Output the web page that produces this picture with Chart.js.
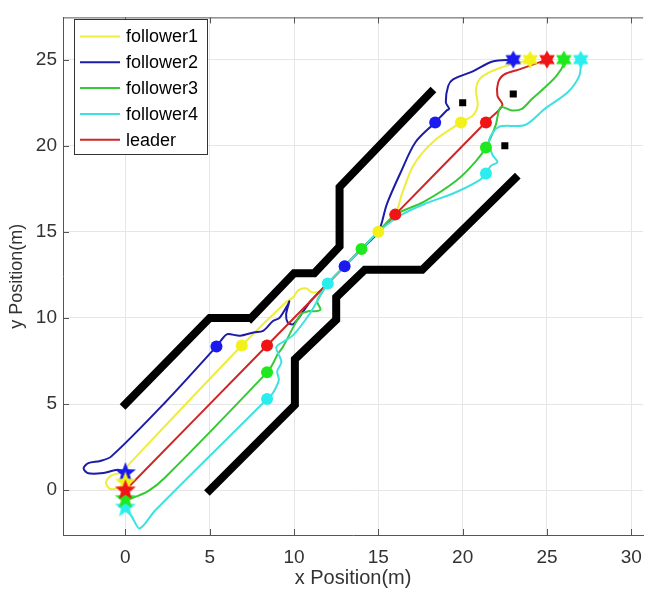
<!DOCTYPE html>
<html>
<head>
<meta charset="utf-8">
<script src="https://cdn.jsdelivr.net/npm/chart.js@4.4.1/dist/chart.umd.min.js"></script>
<style>body{margin:0;background:#fff}</style>
</head>
<body>
<canvas id="pathChart" width="653" height="591"></canvas>
<script>
// tick labels
const xTicks = [0, 5, 10, 15, 20, 25, 30];
const yTicks = [0, 5, 10, 15, 20, 25];
const seriesNames = ["follower1", "follower2", "follower3", "follower4", "leader"];

// trajectories
const f1X = [0, -0.45, -0.95, -1.15, -0.85, -0.2, 0.3, 6.9, 9.5, 9.95, 10.25, 10.7, 11.05, 11.5, 12, 13, 14, 15, 16, 16.4, 17.1, 18.27, 19.9, 20.6, 20.89, 20.79, 21.08, 22.16, 24];
const f1Y = [0.45, 0.12, 0.1, 0.45, 0.85, 1.05, 1.6, 8.4, 10.9, 11.2, 11.6, 11.72, 11.5, 11.55, 12, 13, 14, 15, 16, 17.2, 18.9, 20.25, 21.35, 21.76, 22.33, 23.28, 23.95, 24.5, 25];
const f2X = [0, -0.45, -1.3, -2.2, -2.48, -2.2, -1.5, -0.85, 2.34, 5.4, 5.74, 6.03, 6.8, 7.6, 8.17, 8.75, 9.14, 9.63, 9.72, 9.53, 9.63, 9.92, 10.2, 11, 12, 13, 14, 15, 15.5, 16.3, 17.2, 18.37, 19.05, 19.2, 19.0, 19.14, 19.43, 20.6, 21.77, 23];
const f2Y = [1, 1.19, 1.0, 0.98, 1.27, 1.57, 1.7, 1.95, 5.08, 8.35, 8.78, 9.06, 8.97, 9.16, 9.25, 9.82, 10.01, 10.77, 10.96, 10.2, 9.73, 9.63, 9.9, 11, 12, 13, 14, 15, 16.6, 18.4, 20.2, 21.35, 22.05, 22.14, 22.52, 23.47, 23.85, 24.32, 24.89, 25];
const f3X = [0, 0.4, 1.37, 2.34, 8.4, 8.75, 9.04, 9.33, 10.4, 10.9, 11.28, 11.57, 11.37, 11.6, 12, 13, 14, 15, 16, 17.69, 19.63, 20.79, 21.38, 21.96, 22.25, 22.93, 23.51, 24.1, 24.87, 25.55, 26.04, 26];
const f3Y = [-0.5, -0.45, -0.04, 0.72, 6.84, 7.35, 7.92, 8.3, 10.2, 10.4, 10.39, 10.5, 10.96, 11.4, 12, 13, 14, 15, 16, 16.74, 17.98, 19.11, 19.91, 21.2, 22.24, 22.05, 22.14, 22.71, 23.38, 24.04, 24.8, 25];
const f4X = [0, 0.4, 0.85, 1.76, 8.42, 8.75, 9.1, 9.0, 9.25, 8.95, 9.5, 9.95, 10.9, 11.5, 12, 13, 14, 15, 16.3, 17.7, 19.6, 21.0, 21.38, 21.67, 22.06, 21.75, 21.57, 22.16, 23.7, 24.87, 26.23, 26.91, 27.01, 27];
const f4Y = [-1, -1.56, -2.22, -1.18, 5.31, 5.65, 6.4, 6.9, 7.45, 8.3, 8.7, 9.0, 10.2, 11.2, 12, 13, 14, 15, 15.95, 16.6, 17.3, 18.0, 18.39, 18.83, 19.05, 19.5, 20.34, 21.1, 21.2, 22.14, 23.1, 24.04, 24.8, 25];
const leadX = [0, 8.4, 12, 16, 21.38, 22.35, 22.06, 22.1, 22.45, 23.32, 25];
const leadY = [0, 8.4, 12, 16, 21.38, 22.33, 22.9, 23.66, 24.13, 24.42, 25];

// walls and obstacles
const wallAX = [0, 5, 7.2];
const wallAY = [5, 10, 10];
const wallBX = [7.45, 10, 11.2, 12.7, 12.7, 18.1];
const wallBY = [10, 12.6, 12.6, 14.15, 17.6, 23.1];
const wallCX = [5, 10.05, 10.05, 12.5, 12.5, 14.2, 17.6, 23.1];
const wallCY = [0, 4.95, 7.6, 9.9, 11.2, 12.8, 12.8, 18.1];
const obsX = [20, 23, 22.5];
const obsY = [22.5, 23, 20];

// snapshot positions (follower1..4, leader)
const dotsX = [[6.9, 15, 19.9], [5.4, 13, 18.37], [8.4, 14, 21.38], [8.4, 12, 21.38], [8.4, 16, 21.38]];
const dotsY = [[8.4, 15, 21.35], [8.35, 13, 21.35], [6.85, 14, 19.9], [5.3, 12, 18.39], [8.4, 16, 21.35]];
const startX = [0, 0, 0, 0, 0];
const startY = [0.45, 1, -0.5, -1, 0];
const goalX = [24, 23, 26, 27, 25];
const goalY = [25, 25, 25, 25, 25];

const lineColors = ["#eded3a", "#1c1ca6", "#36c936", "#3fe0e0", "#d12424"];
const markColors = ["#f2f21a", "#1a1af0", "#1fe81f", "#2aeeee", "#f01414"];

function pts(xs, ys) {
  return xs.map((v, i) => ({ x: v, y: ys[i] }));
}

function starImage(color, n, r) {
  const c = document.createElement("canvas");
  c.width = c.height = Math.ceil(r * 2 + 2);
  const g = c.getContext("2d");
  const cx = c.width / 2, cy = c.height / 2;
  const inner = n === 5 ? r * 0.42 : r * 0.58;
  g.beginPath();
  for (let i = 0; i < n * 2; i++) {
    const rr = i % 2 === 0 ? r : inner;
    const a = -Math.PI / 2 + (i * Math.PI) / n;
    g.lineTo(cx + rr * Math.cos(a), cy + rr * Math.sin(a));
  }
  g.closePath();
  g.fillStyle = color;
  g.fill();
  return c;
}

const trajX = [f1X, f2X, f3X, f4X, leadX];
const trajY = [f1Y, f2Y, f3Y, f4Y, leadY];
const datasets = [];

[wallAX, wallBX, wallCX].forEach((wx, i) => {
  const wy = [wallAY, wallBY, wallCY][i];
  datasets.push({
    data: pts(wx, wy), showLine: true, borderColor: "#000", borderWidth: 8,
    borderCapStyle: "square", borderJoinStyle: "miter", pointRadius: 0, tension: 0, order: 20
  });
});

seriesNames.forEach((name, i) => {
  datasets.push({
    label: name, data: pts(trajX[i], trajY[i]), showLine: true,
    borderColor: lineColors[i], borderWidth: 2, pointRadius: 0,
    tension: 0.3, order: i === 4 ? 8 : 10 - i
  });
});

datasets.push({
  data: pts(obsX, obsY), pointStyle: "rect", pointRadius: 5,
  backgroundColor: "#000", borderWidth: 0, order: 3
});

seriesNames.forEach((name, i) => {
  datasets.push({
    data: pts(dotsX[i], dotsY[i]), pointStyle: "circle", pointRadius: 6,
    backgroundColor: markColors[i], borderWidth: 0, order: 2
  });
  datasets.push({
    data: [{ x: startX[i], y: startY[i] }], pointStyle: starImage(markColors[i], 5, 11),
    order: i === 4 ? 0 : 1
  });
  datasets.push({
    data: [{ x: goalX[i], y: goalY[i] }], pointStyle: starImage(markColors[i], 6, 9),
    order: 1
  });
});

const frameAndLegend = {
  id: "frameAndLegend",
  afterDraw(chart) {
    const { ctx, chartArea: a, scales: { x, y } } = chart;
    ctx.save();
    ctx.strokeStyle = "#555";
    ctx.lineWidth = 1;
    ctx.beginPath();
    ctx.moveTo(a.left, a.top + 0.5);
    ctx.lineTo(a.right, a.top + 0.5);
    xTicks.forEach(v => {
      const px = Math.round(x.getPixelForValue(v)) + 0.5;
      ctx.moveTo(px, a.bottom); ctx.lineTo(px, a.bottom - 6);
      ctx.moveTo(px, a.top); ctx.lineTo(px, a.top + 6);
    });
    yTicks.forEach(v => {
      const py = Math.round(y.getPixelForValue(v)) + 0.5;
      ctx.moveTo(a.left, py); ctx.lineTo(a.left + 6, py);
    });
    ctx.stroke();

    // legend box
    const bx = 74.5, by = 19.5, bw = 133, bh = 135;
    ctx.fillStyle = "#fff";
    ctx.fillRect(bx, by, bw, bh);
    ctx.strokeStyle = "#333";
    ctx.strokeRect(bx, by, bw, bh);
    ctx.font = "18px 'Liberation Sans', Arial, sans-serif";
    ctx.textBaseline = "middle";
    ctx.textAlign = "left";
    seriesNames.forEach((name, i) => {
      const ly = 36.5 + i * 25.8;
      ctx.strokeStyle = lineColors[i];
      ctx.lineWidth = 2;
      ctx.beginPath();
      ctx.moveTo(80, ly); ctx.lineTo(120, ly);
      ctx.stroke();
      ctx.fillStyle = "#000";
      ctx.fillText(name, 126, ly + 1);
    });
    ctx.restore();
  }
};

new Chart(document.getElementById("pathChart").getContext("2d"), {
  type: "scatter",
  data: { datasets },
  options: {
    responsive: false,
    animation: false,
    layout: { padding: { top: 7, right: 0, left: 0, bottom: 0 } },
    plugins: { legend: { display: false }, tooltip: { enabled: false } },
    scales: {
      x: {
        type: "linear", min: -3.7, max: 30.7,
        afterBuildTicks: s => { s.ticks = xTicks.map(v => ({ value: v })); },
        afterFit: s => { s.height = 56; },
        grid: { color: "#e6e6e6", drawTicks: false },
        border: { display: true, color: "#555" },
        ticks: { autoSkip: false, maxRotation: 0, padding: 11, color: "#333",
          font: { family: "'Liberation Sans', Arial, sans-serif", size: 19 } },
        title: { display: true, text: "x Position(m)", color: "#333",
          padding: { top: 0, bottom: 1 },
          font: { family: "'Liberation Sans', Arial, sans-serif", size: 20 } }
      },
      y: {
        type: "linear", min: -2.6, max: 27.45,
        afterBuildTicks: s => { s.ticks = yTicks.map(v => ({ value: v })); },
        afterFit: s => { s.width = 63; },
        grid: { color: "#e6e6e6", drawTicks: false },
        border: { display: true, color: "#555" },
        ticks: { autoSkip: false, padding: 6, color: "#333",
          font: { family: "'Liberation Sans', Arial, sans-serif", size: 19 } },
        title: { display: true, text: "y Position(m)", color: "#333",
          padding: { top: 6, bottom: 0 },
          font: { family: "'Liberation Sans', Arial, sans-serif", size: 18 } }
      }
    }
  },
  plugins: [frameAndLegend]
});
</script>
</body>
</html>
